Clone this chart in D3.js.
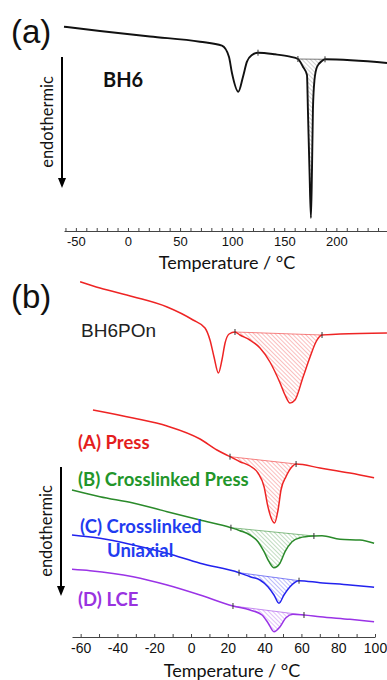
<!DOCTYPE html>
<html>
<head>
<meta charset="utf-8">
<script src="https://cdn.jsdelivr.net/npm/d3@7"></script>
<style>
  body { margin: 0; background: #fff; }
  svg { display: block; }
  .axis text { font-family: "Liberation Sans", Arial, sans-serif; fill: #111; }
  .axis path, .axis line { stroke: #444; }
  .lbl { font-family: Lato, "Open Sans", sans-serif; }
</style>
</head>
<body>
<script>
// ---- panel (a): BH6, heat flow in a.u. (endothermic down) ----
const tempA = [-61.4, -26.9, 21.1, 69.1, 90.2, 96.9, 99.8, 105.9, 110.4, 114.2, 119, 124.8, 141.1, 155.5,
               163.1, 167.9, 171.8, 172.7, 174.2, 175.6, 176.6, 177.5, 179, 181.4, 186.2, 189.1, 248.6];
const heatA = [20.43, 20.0, 19.45, 18.93, 18.53, 17.43, 15.8, 13.93, 15.43, 16.93, 17.6, 17.83, 17.67, 17.43,
               17.2, 16.43, 15.6, 12.1, 6.1, 1.3, 6.1, 12.1, 15.1, 16.4, 17.0, 17.17, 16.8];
const hatchA = [163.1, 189.1];
const marksA = [124.8, 163.1, 189.1];
const ticksA = d3.range(-60, 250, 10);
const labelsA = [-50, 0, 50, 100, 150, 200];

// ---- panel (b) ----
const tempPOn = [-60.3, -49.5, -31.5, -13, 1.1, 7.6, 10.3, 12.5, 14.9, 16.8, 18.5, 20.7, 23.9, 26.6, 32, 37.5,
                 42.9, 48.4, 51.1, 53.8, 56.5, 60.9, 64.7, 67.9, 71.2, 81, 106.5];
const heatPOn = [35.53, 34.9, 34.03, 33.0, 31.7, 30.9, 29.7, 28.0, 26.4, 27.7, 29.4, 30.3, 30.5, 30.2, 29.7, 28.9,
                 27.5, 25.4, 24.2, 23.4, 23.7, 26.0, 28.0, 29.5, 30.2, 30.3, 30.4];
const hatchPOn = [23.9, 71.2];

const tempPress = [-53.3, -31.5, -13, 4.9, 14.1, 21.2, 26.6, 32.1, 36.4, 39.7, 41.8, 45.4, 47.3, 48.9, 51.6,
                   54.9, 57.1, 70.1, 86.4, 99.5];
const heatPress = [22.7, 21.9, 21.1, 19.8, 18.7, 18.03, 17.53, 17.1, 16.4, 15.03, 13.03, 11.4, 12.7, 14.7, 16.03,
                   17.03, 17.3, 16.9, 16.4, 15.93];
const hatchPress = [21.2, 57.1];

const tempXPress = [-64.7, -49.5, -31.5, -13, 4.9, 21.7, 26.6, 32.1, 36.4, 39.7, 42.4, 45.1, 48.4, 51.1, 54.9,
                    59.2, 66.8, 71.2, 81, 91.8, 99.5];
const heatXPress = [14.7, 14.03, 13.4, 12.53, 11.7, 10.93, 10.63, 10.2, 9.53, 8.53, 7.53, 6.93, 7.4, 8.53, 9.53,
                    9.93, 10.1, 10.13, 9.77, 9.7, 9.37];
const hatchXPress = [21.7, 66.8];

const tempUni = [-64.7, -49.5, -31.5, -13, 4.9, 26.1, 32.1, 37.5, 41.8, 45.1, 47.8, 50.5, 53.8, 58.7, 70.1, 86.4, 99.5];
const heatUni = [10.2, 9.87, 9.2, 8.37, 7.37, 6.43, 6.03, 5.7, 5.03, 4.2, 3.37, 4.2, 5.03, 5.63, 5.43, 5.2, 4.97];
const hatchUni = [26.1, 58.7];

const tempLCE = [-64.7, -54.9, -31.5, -13, 4.9, 22.8, 32.1, 38.6, 41.8, 45.1, 48.4, 51.6, 55.4, 61.4, 70.1, 86.4, 99.5];
const heatLCE = [6.77, 6.63, 6.03, 5.2, 4.2, 3.1, 2.7, 2.2, 1.43, 0.53, 1.03, 1.93, 2.27, 2.2, 2.03, 1.77, 1.53];
const hatchLCE = [22.8, 61.4];

const ticksB = d3.range(-60, 101, 10);
const labelsB = [-60, -40, -20, 0, 20, 40, 60, 80, 100];

const seriesB = [
  {temp: tempPOn, heat: heatPOn, hatch: hatchPOn, color: "#ee2424", id: "hPOn"},
  {temp: tempPress, heat: heatPress, hatch: hatchPress, color: "#ee2424", id: "hPress"},
  {temp: tempXPress, heat: heatXPress, hatch: hatchXPress, color: "#2a8a2a", id: "hXPress"},
  {temp: tempUni, heat: heatUni, hatch: hatchUni, color: "#2222ee", id: "hUni"},
  {temp: tempLCE, heat: heatLCE, hatch: hatchLCE, color: "#9a33e6", id: "hLCE"}
];

const W = 387, H = 680;
const svg = d3.select("body").append("svg").attr("width", W).attr("height", H);
const defs = svg.append("defs");

function hatchPattern(id, color, op) {
  defs.append("pattern")
      .attr("id", id)
      .attr("width", 3).attr("height", 3)
      .attr("patternUnits", "userSpaceOnUse")
      .attr("patternTransform", "rotate(-45)")
    .append("line")
      .attr("x1", 0).attr("y1", 0).attr("x2", 0).attr("y2", 3)
      .attr("stroke", color).attr("stroke-width", 0.8).attr("stroke-opacity", op);
}

// curve + hatched peak area + integration marks
function drawCurve(x, y, temp, heat, hatch, color, id, sw, marks) {
  const pts = temp.map((t, i) => ({t: t, v: heat[i]}));
  const inside = pts.filter(d => d.t >= hatch[0] && d.t <= hatch[1]);
  const p0 = inside[0], p1 = inside[inside.length - 1];
  const base = t => p0.v + (p1.v - p0.v) * (t - p0.t) / (p1.t - p0.t);

  hatchPattern(id, color, 0.75);
  svg.append("path")
      .datum(inside)
      .attr("d", d3.area()
          .x(d => x(d.t))
          .y0(d => y(base(d.t)))
          .y1(d => y(d.v))
          .curve(d3.curveMonotoneX))
      .attr("fill", "url(#" + id + ")");

  svg.append("line")
      .attr("x1", x(p0.t)).attr("y1", y(p0.v))
      .attr("x2", x(p1.t)).attr("y2", y(p1.v))
      .attr("stroke", color).attr("stroke-width", 0.8).attr("stroke-opacity", 0.7);

  svg.append("path")
      .datum(pts)
      .attr("d", d3.line().x(d => x(d.t)).y(d => y(d.v)).curve(d3.curveMonotoneX))
      .attr("fill", "none")
      .attr("stroke", color)
      .attr("stroke-width", sw);

  (marks || [hatch[0], hatch[1]]).forEach(function(t) {
    const v = pts.find(d => d.t === t).v;
    svg.append("line")
        .attr("x1", x(t)).attr("x2", x(t))
        .attr("y1", y(v) - 3).attr("y2", y(v) + 3)
        .attr("stroke", "#333").attr("stroke-width", 1);
  });
}

function drawAxis(x, yPos, ticks, labels, size) {
  svg.append("g")
      .attr("class", "axis")
      .attr("transform", "translate(0," + yPos + ")")
      .call(d3.axisBottom(x)
          .tickValues(ticks)
          .tickSizeInner(-3)
          .tickSizeOuter(0)
          .tickPadding(6)
          .tickFormat(d => labels.includes(d) ? d : ""))
      .call(g => g.selectAll("text").attr("font-size", size));
}

function arrow(xPos, y1, y2) {
  svg.append("line")
      .attr("x1", xPos).attr("x2", xPos)
      .attr("y1", y1).attr("y2", y2 - 8)
      .attr("stroke", "#000").attr("stroke-width", 2);
  svg.append("path")
      .attr("d", "M" + (xPos - 4) + "," + (y2 - 10) + "L" + (xPos + 4) + "," + (y2 - 10) + "L" + xPos + "," + y2 + "Z")
      .attr("fill", "#000");
}

function label(txt, x, y, size, color, weight, cls, family) {
  const t = svg.append("text")
      .attr("x", x).attr("y", y)
      .attr("font-size", size)
      .attr("fill", color)
      .attr("font-weight", weight)
      .text(txt);
  if (cls) t.attr("class", cls);
  if (family) t.attr("font-family", family);
  return t;
}

// ---- panel (a) ----
const xA = d3.scaleLinear().domain([-61.4, 248.6]).range([64, 387]);
const yA = d3.scaleLinear().domain([0, 21]).range([231, 21]);

drawAxis(xA, 231, ticksA, labelsA, 13);
drawCurve(xA, yA, tempA, heatA, hatchA, "#111", "hA", 1.9, marksA);
svg.select("#hA line").attr("stroke", "#666");

arrow(62, 57, 188);
label("endothermic", 0, 0, 16.5, "#111", "normal", "lbl")
    .attr("text-anchor", "middle")
    .attr("transform", "translate(53,122) rotate(-90)");
label("BH6", 103, 87, 20, "#111", "bold", "lbl");
label("(a)", 11, 43, 33, "#111", "normal", null, "Liberation Sans, Arial, sans-serif");
label("Temperature / °C", 227, 268.5, 18, "#111", "normal", "lbl").attr("text-anchor", "middle");

// ---- panel (b) ----
const xB = d3.scaleLinear().domain([-64.7, 100]).range([72, 375]);
const yB = d3.scaleLinear().domain([0, 36]).range([637, 277]);

drawAxis(xB, 637, ticksB, labelsB, 14);
seriesB.forEach(s => drawCurve(xB, yB, s.temp, s.heat, s.hatch, s.color, s.id, 1.5));

arrow(61, 467, 596);
label("endothermic", 0, 0, 16.5, "#111", "normal", "lbl")
    .attr("text-anchor", "middle")
    .attr("transform", "translate(52,531) rotate(-90)");
label("(b)", 11, 308, 33, "#111", "normal", null, "Liberation Sans, Arial, sans-serif");
label("BH6POn", 81, 337, 19, "#222", "normal", null, "Liberation Sans, Arial, sans-serif");
label("(A) Press", 78, 449, 18.5, "#e41e1e", "bold", "lbl");
label("(B) Crosslinked Press", 78, 486, 18.5, "#22962a", "bold", "lbl");
label("(C) Crosslinked", 80, 533, 18.5, "#1f3cf0", "bold", "lbl");
label("Uniaxial", 107, 557, 18.5, "#1f3cf0", "bold", "lbl");
label("(D) LCE", 78, 606, 18.5, "#9933e0", "bold", "lbl");
label("Temperature / °C", 232, 677, 18, "#111", "normal", "lbl").attr("text-anchor", "middle");
</script>
</body>
</html>
